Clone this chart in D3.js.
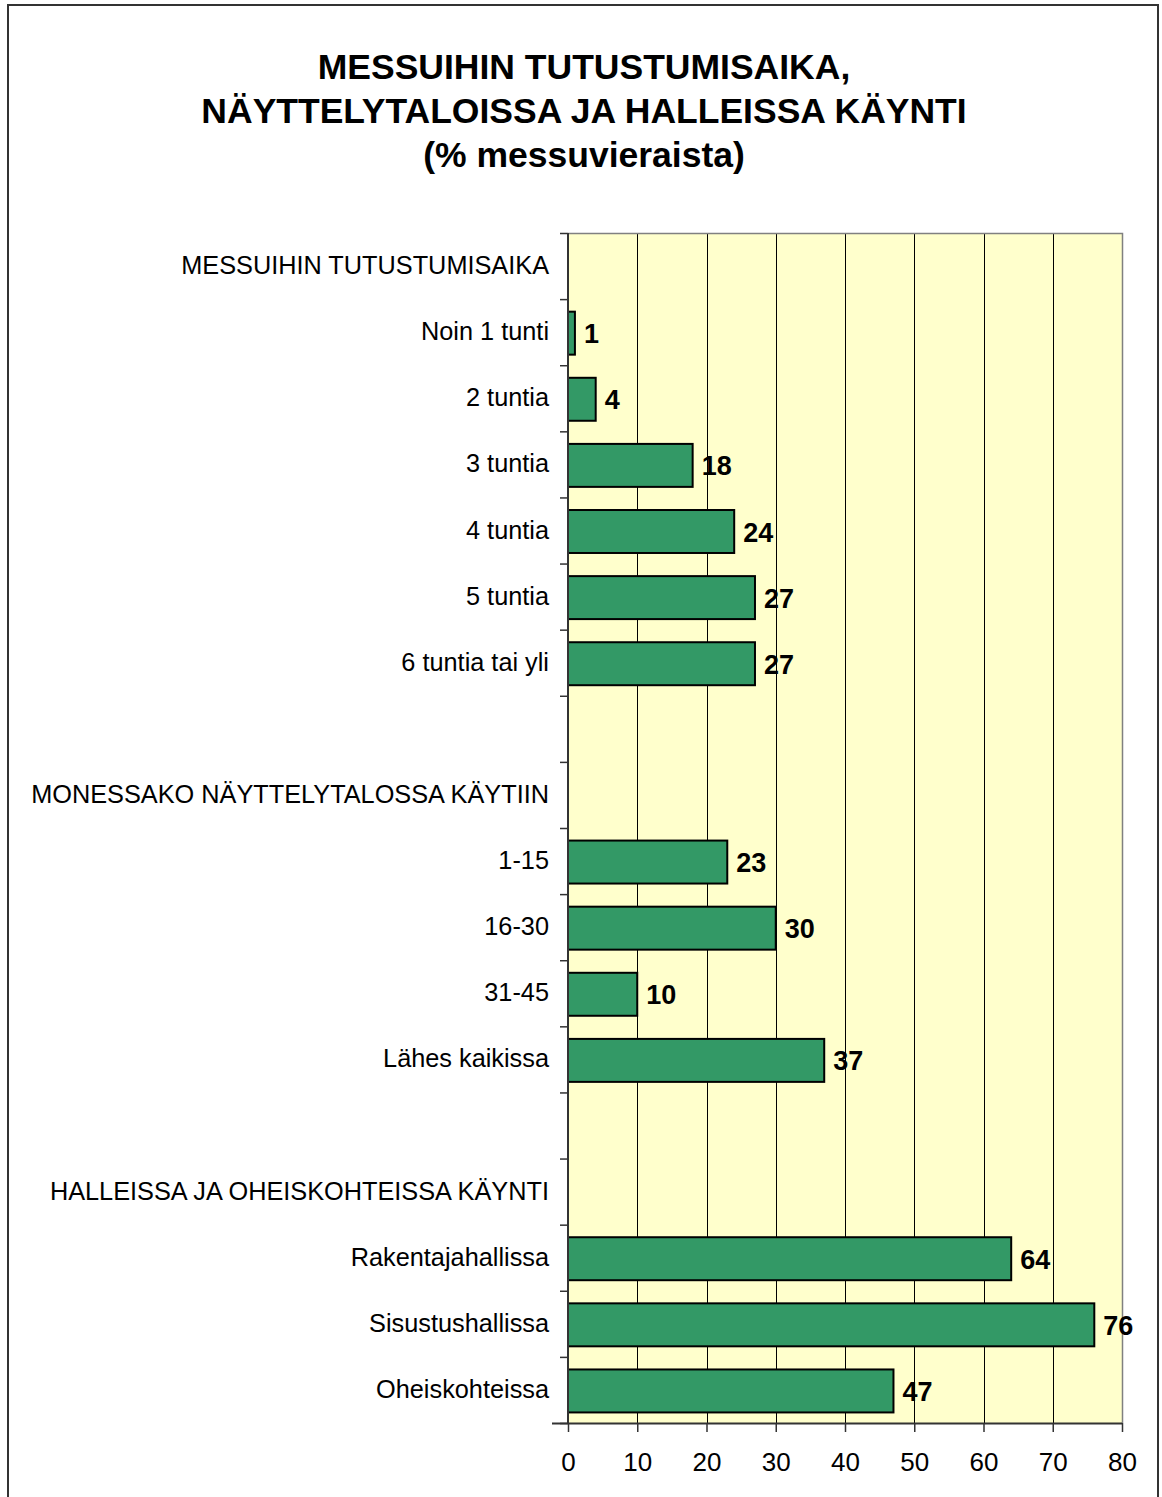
<!DOCTYPE html>
<html>
<head>
<meta charset="utf-8">
<script src="https://cdn.jsdelivr.net/npm/d3@7"></script>
<style>
    body { margin: 0; background: #ffffff; }
    svg text { font-family: "Liberation Sans", Arial, sans-serif; }
</style>
</head>
<body>
<div id="chartdiv"></div>
<script>
/*global window, document, d3 */

////////////////////////////////////////
// chart data
////////////////////////////////////////

var titleLines = ["MESSUIHIN TUTUSTUMISAIKA,",
                  "NÄYTTELYTALOISSA JA HALLEISSA KÄYNTI",
                  "(% messuvieraista)"];

var categories = ["MESSUIHIN TUTUSTUMISAIKA", "Noin 1 tunti", "2 tuntia",
                  "3 tuntia", "4 tuntia", "5 tuntia", "6 tuntia tai yli", "",
                  "MONESSAKO NÄYTTELYTALOSSA KÄYTIIN", "1-15", "16-30",
                  "31-45", "Lähes kaikissa", "",
                  "HALLEISSA JA OHEISKOHTEISSA KÄYNTI", "Rakentajahallissa",
                  "Sisustushallissa", "Oheiskohteissa"];

var values = [null, 1, 4, 18, 24, 27, 27, null,
              null, 23, 30, 10, 37, null,
              null, 64, 76, 47];

var xTicks = [0, 10, 20, 30, 40, 50, 60, 70, 80];


var chart = (function () {
    "use strict";

    var cst = {width: 1162, height: 1497,
               left: 568, right: 1122, top: 233, bottom: 1423},

    drawFrame = function () {
        cst.svg.append("rect")
            .attr("x", 8).attr("y", 5)
            .attr("width", 1150).attr("height", 1500)
            .style("fill", "none").style("stroke", "#333333")
            .style("stroke-width", 2);
        cst.svg.append("g").selectAll("text")
            .data(titleLines)
            .join("text")
            .attr("x", 584)
            .attr("y", function (d, i) { return 79 + i * 44; })
            .attr("text-anchor", "middle")
            .style("font-size", "35.5px").style("font-weight", "bold")
            .text(function (d) { return d; });
    },

    drawPlot = function () {
        var x, y, idx, g;
        x = d3.scaleLinear().domain([0, 80])
            .range([cst.left, cst.right]);
        idx = d3.range(categories.length);
        y = d3.scaleBand().domain(idx)
            .range([cst.top, cst.bottom])
            .paddingInner(0.35).paddingOuter(0.175);
        g = cst.svg.append("g");
        g.append("rect")
            .attr("x", cst.left).attr("y", cst.top)
            .attr("width", cst.right - cst.left)
            .attr("height", cst.bottom - cst.top)
            .style("fill", "#ffffcc");
        g.append("g").selectAll("line")
            .data(xTicks.slice(1, -1))
            .join("line")
            .attr("x1", function (d) { return Math.round(x(d)) + 0.5; })
            .attr("x2", function (d) { return Math.round(x(d)) + 0.5; })
            .attr("y1", cst.top).attr("y2", cst.bottom)
            .style("stroke", "#000000").style("stroke-width", 1);
        //plot border top and right
        g.append("path")
            .attr("d", "M" + cst.left + "," + (cst.top + 0.5) +
                  "H" + (cst.right + 0.5) + "V" + cst.bottom)
            .style("fill", "none").style("stroke", "#808080")
            .style("stroke-width", 1.5);
        //bars
        g.append("g").selectAll("rect")
            .data(idx.filter(function (i) { return values[i] !== null; }))
            .join("rect")
            .attr("x", x(0))
            .attr("y", function (i) { return y(i) + 1; })
            .attr("width", function (i) { return x(values[i]) - x(0); })
            .attr("height", y.bandwidth())
            .style("fill", "#339966").style("stroke", "#000000")
            .style("stroke-width", 2);
        g.append("g").selectAll("text")
            .data(idx.filter(function (i) { return values[i] !== null; }))
            .join("text")
            .attr("x", function (i) { return x(values[i]) + 9; })
            .attr("y", function (i) { return y(i) + y.bandwidth() / 2 + 11; })
            .style("font-size", "27px").style("font-weight", "bold")
            .text(function (i) { return values[i]; });
        //category axis
        g.append("g").selectAll("line")
            .data(d3.range(categories.length + 1))
            .join("line")
            .attr("x1", cst.left - 8).attr("x2", cst.left)
            .attr("y1", function (i) {
                return cst.top + i * y.step() + 0.5; })
            .attr("y2", function (i) {
                return cst.top + i * y.step() + 0.5; })
            .style("stroke", "#333333").style("stroke-width", 1.5);
        g.append("line")
            .attr("x1", cst.left).attr("x2", cst.left)
            .attr("y1", cst.top).attr("y2", cst.bottom)
            .style("stroke", "#333333").style("stroke-width", 2);
        g.append("g").selectAll("text")
            .data(idx)
            .join("text")
            .attr("x", 549)
            .attr("y", function (i) { return y(i) + y.bandwidth() / 2 + 8; })
            .attr("text-anchor", "end")
            .style("font-size", "25.3px")
            .text(function (i) { return categories[i]; });
        //value axis
        g.append("g")
            .attr("transform", "translate(0," + cst.bottom + ")")
            .call(d3.axisBottom(x).tickValues(xTicks)
                  .tickSize(9).tickPadding(21).tickSizeOuter(0))
            .call(function (a) {
                a.select(".domain").attr("d", "M" + (cst.left - 16) +
                                         ",0.5H" + cst.right)
                    .style("stroke", "#333333").style("stroke-width", 2);
                a.selectAll(".tick line").style("stroke", "#333333")
                    .style("stroke-width", 1.5);
                a.selectAll("text").style("font-size", "26px")
                    .style("fill", "#000000")
                    .style("font-family", "Liberation Sans, Arial, sans-serif");
            });
    };

return {
    run: function () {
        cst.svg = d3.select("#chartdiv").append("svg")
            .attr("width", cst.width).attr("height", cst.height);
        cst.svg.append("rect")
            .attr("width", cst.width).attr("height", cst.height)
            .style("fill", "#ffffff");
        drawPlot();
        drawFrame();
    }
};
}());

chart.run();
</script>
</body>
</html>
